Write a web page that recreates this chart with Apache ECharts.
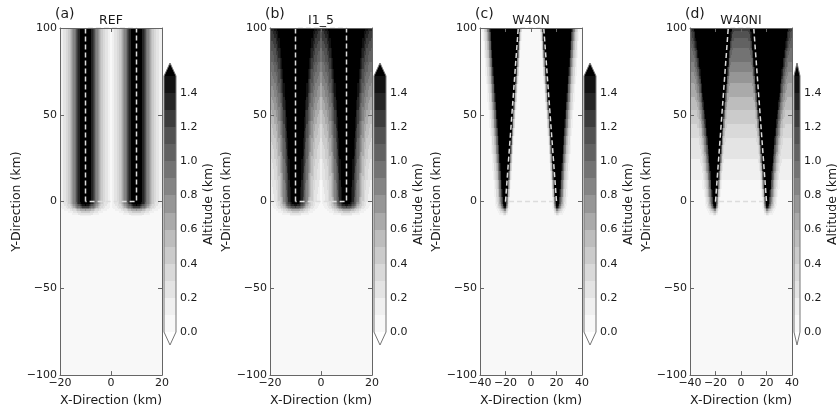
<!DOCTYPE html>
<html>
<head>
<meta charset="UTF-8">
<title>Valley topography</title>
<style>
  * { margin: 0; padding: 0; }
  body { background: #fff; }
</style>
<script src="https://cdn.jsdelivr.net/npm/echarts@6/dist/echarts.min.js"></script>
</head>
<body>
<div id="main" style="width:840px;height:412px;"></div>
<script>
// panels
var panelLetters = ['(a)', '(b)', '(c)', '(d)'];
var panelNames = ['REF', 'I1_5', 'W40N', 'W40NI'];
var xRanges = [[-20, 20], [-20, 20], [-40, 40], [-40, 40]];
var yRange = [-100, 100];

// contour levels (km) and their grey shades: under, 15 bands, over
var levels = [0, 0.1, 0.2, 0.3, 0.4, 0.5, 0.6, 0.7, 0.8, 0.9, 1.0, 1.1, 1.2, 1.3, 1.4, 1.5];
var levelGrays = [255, 248, 240, 228, 217, 203, 189, 170, 150, 132, 115, 98, 82, 60, 37, 18, 0];

// altitude across the straight ridges, by distance from the crest (0.5 km steps, 0..10 km)
var ridgeRef = [1.75, 1.73, 1.68, 1.6, 1.5, 1.38, 1.25, 1.12, 0.99, 0.87, 0.75,
  0.64, 0.54, 0.45, 0.37, 0.3, 0.25, 0.21, 0.18, 0.16, 0.15];
var ridgeIncl = [1.68, 1.66, 1.61, 1.53, 1.43, 1.31, 1.18, 1.05, 0.92, 0.8, 0.68,
  0.57, 0.47, 0.39, 0.31, 0.25, 0.2, 0.16, 0.13, 0.11, 0.1];
// narrowing valley: inward from the crest, and outward from the high plateau (0.5 km steps)
var innerW40 = [2.0, 1.6, 1.2, 0.85, 0.55, 0.33, 0.18, 0.09, 0.04, 0.01, 0];
var outerW40 = [2.0, 1.7, 1.45, 1.25, 1.08, 0.93, 0.8, 0.68, 0.57, 0.47, 0.38,
  0.3, 0.23, 0.17, 0.12, 0.08, 0.05, 0.02, 0];
var plateauEdgeW40 = [21, 31];   // outer edge of plateau at y=0 and y=100 (km)
// fall-off of the ridge ends south of y=0 (factor, 1 km steps)
var capTaper = [1, 0.96, 0.86, 0.72, 0.56, 0.4, 0.26, 0.15, 0.07, 0.02, 0];
// valley floor rise of the inclined cases, every 2 km from y=0 to y=100
var inclineRise = [0, 0.01, 0.03, 0.04, 0.05, 0.07, 0.08, 0.1, 0.11, 0.13,
  0.14, 0.16, 0.18, 0.2, 0.22, 0.23, 0.25, 0.27, 0.29, 0.32,
  0.34, 0.36, 0.38, 0.4, 0.43, 0.45, 0.47, 0.5, 0.52, 0.55,
  0.58, 0.6, 0.63, 0.66, 0.69, 0.71, 0.74, 0.77, 0.8, 0.83,
  0.86, 0.9, 0.93, 0.96, 0.99, 1.03, 1.06, 1.09, 1.13, 1.16,
  1.2];

// dashed valley outlines
var rectX = [-10, -10, 10, 10, -10];
var rectY = [0, 100, 100, 0, 0];
var trapX = [-20, -10, 10, 20, -20];
var trapY = [0, 100, 100, 0, 0];

function pick(arr, i) {
  return arr[Math.min(Math.max(i, 0), arr.length - 1)];
}

function w40Alt(x, y) {
  var f = Math.max(y, 0) / 100;
  var xc = trapX[3] + (trapX[2] - trapX[3]) * f;
  var xo = plateauEdgeW40[0] + (plateauEdgeW40[1] - plateauEdgeW40[0]) * f;
  var ax = Math.abs(x);
  if (ax < xc) return pick(innerW40, Math.round(2 * (xc - ax)));
  if (ax <= xo) return innerW40[0];
  return pick(outerW40, Math.round(2 * (ax - xo)));
}

function altitude(p, x, y) {
  var h;
  if (p < 2) {
    // the two ridges meet on x = 0, where neither ridge tail is counted
    h = x === 0 ? 0 : pick(p === 0 ? ridgeRef : ridgeIncl, Math.round(2 * Math.abs(Math.abs(x) - rectX[2])));
  } else {
    h = w40Alt(x, y);
  }
  if (y < 0) return h * pick(capTaper, -y);
  if (p === 1 || p === 3) h += pick(inclineRise, Math.round(y / 2));
  return h;
}

function bandOf(v) {
  if (v < levels[0]) return 0;
  for (var i = 1; i < levels.length; i++) {
    if (v < levels[i] - 1e-9) return i;
  }
  return levels.length;
}

// rows of 1 km x 0.5 km cells, merged into runs of the same band
function buildCells(p) {
  var xr = xRanges[p], out = [];
  var n = (xr[1] - xr[0]) * 2;
  for (var y = -10; y <= 100; y++) {
    var y0 = y - 0.5, y1 = Math.min(y + 0.5, yRange[1]);
    var runStart = xr[0], runBand = -1;
    for (var k = 0; k <= n; k++) {
      var x = xr[0] + k / 2;
      var b = bandOf(altitude(p, x, y));
      var left = Math.max(x - 0.25, xr[0]);
      if (b !== runBand) {
        if (runBand > 1) out.push([runStart, left, y0, y1, runBand]);
        runStart = left;
        runBand = b;
      }
    }
    if (runBand > 1) out.push([runStart, xr[1], y0, y1, runBand]);
  }
  return out;
}

function grey(g) {
  return 'rgb(' + g + ',' + g + ',' + g + ')';
}

function renderCell(params, api) {
  var a = api.coord([api.value(0), api.value(3)]);
  var b = api.coord([api.value(1), api.value(2)]);
  var x0 = Math.round(a[0]), x1 = Math.round(b[0]);
  var y0 = Math.round(a[1]), y1 = Math.round(b[1]);
  return {
    type: 'rect',
    shape: { x: x0, y: y0, width: x1 - x0, height: y1 - y0 },
    style: { fill: grey(levelGrays[api.value(4)]) }
  };
}

var tip = 13;
function renderBar(params, api) {
  var kind = api.value(3);
  var lo = api.coord([0, api.value(0)]);
  var hi = api.coord([1, api.value(1)]);
  var xl = Math.round(lo[0]), xr = Math.round(hi[0]);
  var yb = Math.round(lo[1]), yt = Math.round(hi[1]);
  var mid = (xl + xr) / 2;
  var fill = grey(levelGrays[api.value(2)]);
  if (kind === 0) {
    return { type: 'rect', shape: { x: xl, y: yt, width: xr - xl, height: yb - yt }, style: { fill: fill } };
  }
  if (kind === 1) {
    return { type: 'polygon', shape: { points: [[xl, yt], [xr, yt], [mid, yt - tip]] }, style: { fill: fill } };
  }
  if (kind === 2) {
    return { type: 'polygon', shape: { points: [[xl, yb], [xr, yb], [mid, yb + tip]] }, style: { fill: fill } };
  }
  return {
    type: 'polygon',
    shape: { points: [[xl, yb], [xl, yt], [mid, yt - tip], [xr, yt], [xr, yb], [mid, yb + tip]] },
    style: { fill: 'none', stroke: '#777', lineWidth: 1 }
  };
}

var barItems = [];
for (var i = 0; i < levels.length - 1; i++) barItems.push([levels[i], levels[i + 1], i + 1, 0]);
barItems.push([levels[levels.length - 1], levels[levels.length - 1], levelGrays.length - 1, 1]);
barItems.push([levels[0], levels[0], 0, 2]);
barItems.push([levels[0], levels[levels.length - 1], 0, 3]);

var fontFamily = 'DejaVu Sans';
var textColor = '#1a1a1a';
var frameColor = '#666';
function minus(v) {
  return String(v).replace('-', '\u2212');
}

var plotLefts = [60, 270, 480, 690];
var plotTop = 28, plotW = 102, plotH = 352;
var cbTop = 76, cbH = 256, cbW = 12;

var grid = [], xAxis = [], yAxis = [], series = [], graphic = [];

for (var p = 0; p < 4; p++) {
  var L = plotLefts[p];
  var xr = xRanges[p];
  grid.push({ left: L, top: plotTop, width: plotW, height: plotH, show: true, backgroundColor: grey(levelGrays[1]), borderWidth: 0 });
  grid.push({ left: L + plotW + 2, top: cbTop, width: cbW, height: cbH });

  var frame = { show: true, onZero: false, lineStyle: { color: frameColor, width: 1 } };
  var ticks = { show: true, inside: true, length: 4, lineStyle: { color: frameColor } };
  var labelStyle = { fontSize: 11, color: textColor, fontFamily: fontFamily, formatter: minus };
  var nameStyle = { fontSize: 12.5, color: textColor, fontFamily: fontFamily };

  xAxis.push({
    gridIndex: 2 * p, type: 'value', min: xr[0], max: xr[1], interval: 20, position: 'bottom',
    name: 'X-Direction (km)', nameLocation: 'middle', nameGap: 15, nameTextStyle: nameStyle,
    axisLine: frame, axisTick: ticks, axisLabel: Object.assign({ margin: 3 }, labelStyle),
    splitLine: { show: false }, z: 10
  });
  xAxis.push({
    gridIndex: 2 * p, type: 'value', min: xr[0], max: xr[1], interval: 20, position: 'top',
    axisLine: frame, axisTick: ticks, axisLabel: { show: false }, splitLine: { show: false }, z: 10
  });
  xAxis.push({ gridIndex: 2 * p + 1, type: 'value', min: 0, max: 1, show: false });

  yAxis.push({
    gridIndex: 2 * p, type: 'value', min: yRange[0], max: yRange[1], interval: 50, position: 'left',
    name: 'Y-Direction (km)', nameLocation: 'middle', nameGap: 31, nameTextStyle: nameStyle,
    axisLine: frame, axisTick: ticks, axisLabel: Object.assign({ margin: 3 }, labelStyle),
    splitLine: { show: false }, z: 10
  });
  yAxis.push({
    gridIndex: 2 * p, type: 'value', min: yRange[0], max: yRange[1], interval: 50, position: 'right',
    axisLine: frame, axisTick: ticks, axisLabel: { show: false }, splitLine: { show: false }, z: 10
  });
  yAxis.push({
    gridIndex: 2 * p + 1, type: 'value', min: levels[0], max: levels[levels.length - 1], interval: 0.2, position: 'right',
    name: 'Altitude (km)', nameLocation: 'middle', nameGap: 26, nameTextStyle: nameStyle,
    axisLine: { show: false }, axisTick: { show: false }, splitLine: { show: false },
    axisLabel: { margin: 4, fontSize: 11, color: textColor, fontFamily: fontFamily, showMaxLabel: false,
      formatter: function (v) { return v.toFixed(1); } }
  });

  series.push({
    type: 'custom', xAxisIndex: 3 * p, yAxisIndex: 3 * p, data: buildCells(p),
    renderItem: renderCell, silent: true, progressive: 0, z: 1
  });
  var ox = p < 2 ? rectX : trapX, oy = p < 2 ? rectY : trapY;
  series.push({
    type: 'line', xAxisIndex: 3 * p, yAxisIndex: 3 * p,
    data: ox.map(function (v, k) { return [v, oy[k]]; }),
    symbol: 'none', silent: true, z: 3,
    lineStyle: { color: '#dcdcdc', width: 1.5, type: [5, 3] }
  });
  series.push({
    type: 'custom', xAxisIndex: 3 * p + 2, yAxisIndex: 3 * p + 2, data: barItems,
    renderItem: renderBar, silent: true, z: 2
  });

  graphic.push({
    type: 'text', x: L + plotW / 2, y: 21, z: 20,
    style: { text: panelNames[p], font: '12.5px "DejaVu Sans"', fill: textColor, align: 'center', verticalAlign: 'middle' }
  });
  graphic.push({
    type: 'text', x: L - 5, y: 14, z: 20,
    style: { text: panelLetters[p], font: '14px "DejaVu Sans"', fill: textColor, align: 'left', verticalAlign: 'middle' }
  });
}

var chart = echarts.init(document.getElementById('main'));
chart.setOption({
  animation: false,
  backgroundColor: '#fff',
  grid: grid,
  xAxis: xAxis,
  yAxis: yAxis,
  series: series,
  graphic: graphic
});
</script>
</body>
</html>
